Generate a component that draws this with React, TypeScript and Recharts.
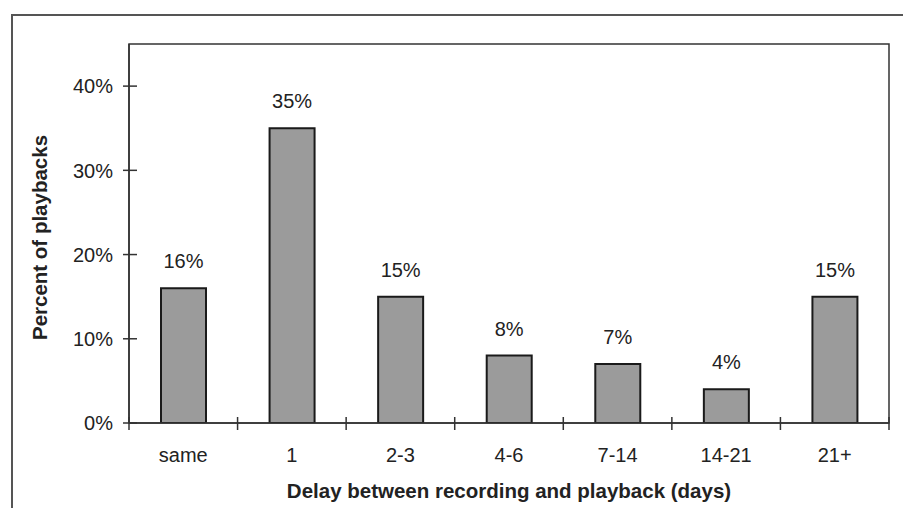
import React from 'react';
import { BarChart, Bar, XAxis, YAxis, LabelList, Label, ReferenceArea } from 'recharts';

const categories = ['same', '1', '2-3', '4-6', '7-14', '14-21', '21+'];
const playbackPct = [16, 35, 15, 8, 7, 4, 15];
const yTicks = [0, 10, 20, 30, 40];
const yMax = 45;

const data = categories.map((name, i) => ({ name, value: playbackPct[i] }));

const FONT = '"Liberation Sans", Arial, sans-serif';
const INK = '#222';
const AXIS = '#333';

const Y_TICK_SIZE = 6;
const Y_TICK_MARGIN = 10;

const YTick = (props: any) => {
    const { x, y, payload } = props;
    const axisX = x + Y_TICK_SIZE + Y_TICK_MARGIN;
    return (
        <g>
            <line x1={axisX - 6} x2={axisX + 8} y1={y} y2={y} stroke={AXIS} strokeWidth={1.5} />
            <text x={x} y={y} dy="0.36em" textAnchor="end" fontSize={20} fontFamily={FONT} fill={INK}>
                {`${payload.value}%`}
            </text>
        </g>
    );
};

const XTick = (props: any) => {
    const { x, y, payload, index, visibleTicksCount, width } = props;
    const bw = (width || 760) / visibleTicksCount;
    const left = x - bw / 2;
    const right = x + bw / 2;
    return (
        <g>
            <line x1={left} x2={left} y1={y - 13} y2={y} stroke={AXIS} strokeWidth={1.5} />
            {index === visibleTicksCount - 1 && (
                <line x1={right} x2={right} y1={y - 13} y2={y} stroke={AXIS} strokeWidth={1.5} />
            )}
            <text x={x} y={y + 32} textAnchor="middle" fontSize={20} fontFamily={FONT} fill={INK}>
                {payload.value}
            </text>
        </g>
    );
};

const App: React.FC = () => {
    return (
        <div style={{ position: 'absolute', left: 0, top: 0, width: 903, height: 508, overflow: 'hidden', background: '#fff' }}>
            <div
                style={{
                    position: 'absolute',
                    left: 11,
                    top: 14,
                    width: 920,
                    height: 520,
                    borderLeft: '2px solid #555',
                    borderTop: '2px solid #555',
                }}
            />
            <div style={{ position: 'absolute', left: 0, top: 0 }}>
                <BarChart width={903} height={508} data={data} margin={{ top: 44, right: 14, bottom: 0, left: 0 }}>
                    <XAxis
                        dataKey="name"
                        height={85}
                        axisLine={{ stroke: AXIS, strokeWidth: 1.5 }}
                        tickLine={false}
                        tickSize={7}
                        tickMargin={0}
                        tick={<XTick />}
                        interval={0}
                    >
                        <Label
                            content={({ viewBox }: any) => (
                                <text
                                    x={viewBox.x + viewBox.width / 2}
                                    y={viewBox.y + 75}
                                    textAnchor="middle"
                                    fontSize={20.5}
                                    fontWeight="bold"
                                    fontFamily={FONT}
                                    fill={INK}
                                >
                                    Delay between recording and playback (days)
                                </text>
                            )}
                        />
                    </XAxis>
                    <YAxis
                        width={129}
                        domain={[0, yMax]}
                        ticks={yTicks}
                        allowDataOverflow
                        axisLine={{ stroke: AXIS, strokeWidth: 1.5 }}
                        tickLine={false}
                        tickSize={Y_TICK_SIZE}
                        tickMargin={Y_TICK_MARGIN}
                        tick={<YTick />}
                        interval={0}
                    >
                        <Label
                            content={({ viewBox }: any) => {
                                const cx = viewBox.x + 47;
                                const cy = viewBox.y + viewBox.height / 2 + 4;
                                return (
                                    <text
                                        x={cx}
                                        y={cy}
                                        transform={`rotate(-90, ${cx}, ${cy})`}
                                        textAnchor="middle"
                                        fontSize={20.5}
                                        fontWeight="bold"
                                        fontFamily={FONT}
                                        fill={INK}
                                    >
                                        Percent of playbacks
                                    </text>
                                );
                            }}
                        />
                    </YAxis>
                    <ReferenceArea
                        x1={categories[0]}
                        x2={categories[categories.length - 1]}
                        y1={0}
                        y2={yMax}
                        fill="none"
                        fillOpacity={0}
                        stroke={AXIS}
                        strokeWidth={1.5}
                        ifOverflow="visible"
                    />
                    <Bar dataKey="value" fill="#9b9b9b" stroke="#1a1a1a" strokeWidth={2} barSize={45} isAnimationActive={false}>
                        <LabelList
                            dataKey="value"
                            position="top"
                            offset={20}
                            formatter={(v: any) => `${v}%`}
                            fontSize={20}
                            fontFamily={FONT}
                            fill={INK}
                        />
                    </Bar>
                </BarChart>
            </div>
        </div>
    );
};

export default App;
